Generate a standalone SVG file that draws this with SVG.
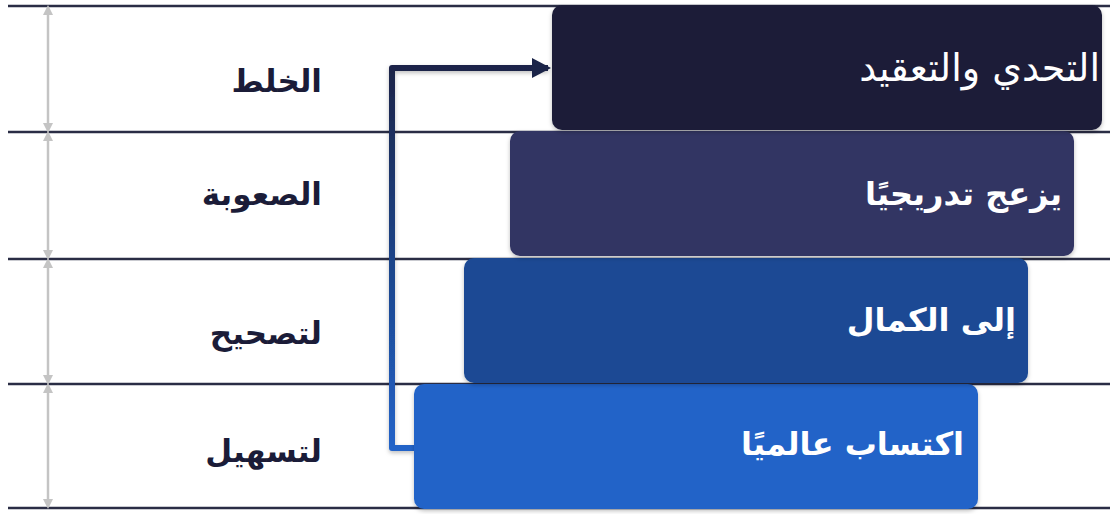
<svg xmlns="http://www.w3.org/2000/svg" width="1110" height="514" viewBox="0 0 1110 514">
<style>
.rule{stroke:#2a2d45;stroke-width:2.5;fill:none}
.dim{stroke:#c4c4c4;stroke-width:2.5;fill:none;marker-start:url(#ga);marker-end:url(#ga)}
.lbl{font-family:"DejaVu Sans","Noto Sans",sans-serif;font-weight:bold;font-size:31px;fill:#1b1c38;text-anchor:end}
.btxt{font-family:"DejaVu Sans","Noto Sans",sans-serif;font-weight:bold;font-size:32px;fill:#ffffff;text-anchor:end}
.rtxt{font-family:"DejaVu Sans","Noto Sans",sans-serif;font-size:38px;fill:#ffffff;text-anchor:end}
</style>
<defs>
<marker id="ga" viewBox="0 0 10 10" refX="5" refY="5" markerWidth="4" markerHeight="4" orient="auto-start-reverse" markerUnits="strokeWidth"><path d="M0,0 L10,5 L0,10 Z" fill="#c4c4c4"/></marker>
<linearGradient id="cg" x1="0" y1="448" x2="0" y2="68" gradientUnits="userSpaceOnUse"><stop offset="0" stop-color="#2163c8"/><stop offset="1" stop-color="#1b2448"/></linearGradient>
<filter id="sh" x="-5%" y="-10%" width="110%" height="125%"><feDropShadow dx="0" dy="2" stdDeviation="2" flood-color="#000" flood-opacity="0.25"/></filter>
</defs>
<g id="rules">
<line class="rule" x1="8" y1="6" x2="1110" y2="6"/>
<line class="rule" x1="8" y1="132" x2="1110" y2="132"/>
<line class="rule" x1="8" y1="259" x2="1110" y2="259"/>
<line class="rule" x1="8" y1="384" x2="1110" y2="384"/>
<line class="rule" x1="8" y1="508" x2="1110" y2="508"/>
</g>
<g id="dimensions">
<line class="dim" x1="48" y1="10" x2="48" y2="128"/>
<line class="dim" x1="48" y1="136" x2="48" y2="255"/>
<line class="dim" x1="48" y1="263" x2="48" y2="380"/>
<line class="dim" x1="48" y1="388" x2="48" y2="504"/>
</g>
<g id="labels">
<text class="lbl" x="322" y="92">الخلط</text>
<text class="lbl" x="322" y="205">الصعوبة</text>
<text class="lbl" x="322" y="344">لتصحيح</text>
<text class="lbl" x="322" y="462">لتسهيل</text>
</g>
<g id="connectors">
<path d="M414,448 L392,448 L392,68 L548,68" fill="none" stroke="url(#cg)" stroke-width="6" stroke-linejoin="round" filter="url(#sh)"/>
<path d="M532,58 L551,68 L532,78 Z" fill="#1b2448"/>
</g>
<g id="node4"><rect x="414" y="384" width="564" height="125" rx="10" fill="#2163c8" filter="url(#sh)"/><text class="btxt" x="964" y="455">اكتساب عالميًا</text></g>
<g id="node3"><rect x="464" y="258" width="564" height="125" rx="10" fill="#1a4a94" filter="url(#sh)"/><text class="btxt" x="1016" y="331">إلى الكمال</text></g>
<g id="node2"><rect x="510" y="131" width="564" height="125" rx="10" fill="#323463" filter="url(#sh)"/><text class="btxt" x="1062" y="205">يزعج تدريجيًا</text></g>
<g id="node1"><rect x="552" y="5" width="550" height="125" rx="10" fill="#1b1c38" filter="url(#sh)"/><text class="rtxt" x="1100" y="81">التحدي والتعقيد</text></g>
</svg>
